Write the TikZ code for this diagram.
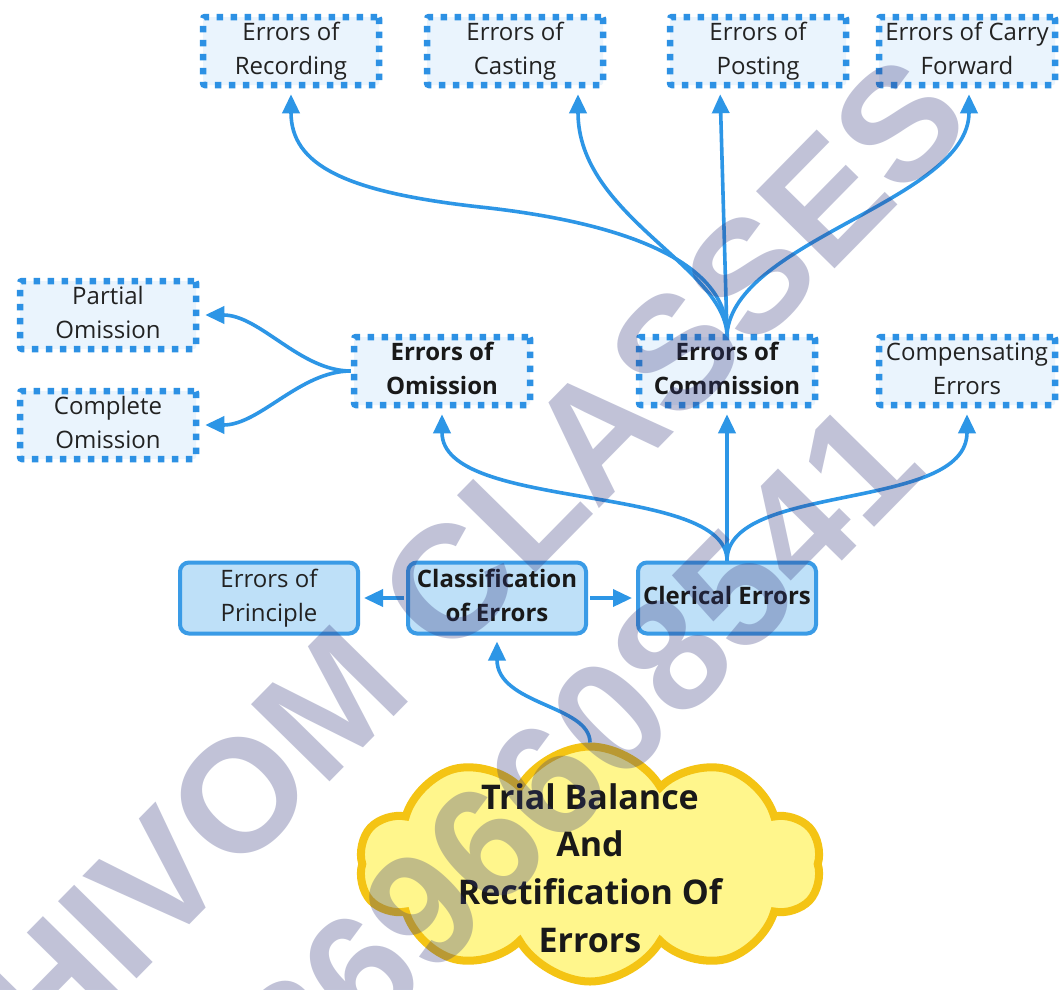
\documentclass[tikz,border=0pt]{standalone}
\usepackage{fontspec}
\setmainfont{Open Sans}
\newfontfamily\wmfont{Liberation Sans}
\usetikzlibrary{shapes.symbols,arrows.meta}
\definecolor{arr}{RGB}{45,150,230}
\definecolor{dotb}{RGB}{45,145,228}
\definecolor{dotf}{RGB}{234,244,253}
\definecolor{solf}{RGB}{190,224,248}
\definecolor{solb}{RGB}{58,155,230}
\definecolor{cloudf}{RGB}{255,246,140}
\definecolor{cloudb}{RGB}{244,196,20}
\definecolor{wm}{RGB}{50,55,125}
\definecolor{txt}{RGB}{34,34,34}
\begin{document}
\begin{tikzpicture}[x=1pt,y=1pt,
  dotbox/.style={draw=dotb, fill=dotf, line width=6.5pt, dash pattern=on 6.5pt off 7.5pt,
    rounded corners=2pt, minimum width=176pt, minimum height=68pt, inner sep=0pt,
    align=center, font=\fontsize{24}{34}\selectfont, text=txt},
  solbox/.style={draw=solb, fill=solf, line width=4pt, rounded corners=9pt,
    minimum width=178pt, minimum height=71pt, inner sep=0pt,
    align=center, font=\fontsize{24}{34}\selectfont, text=txt},
  bold/.style={font=\fontsize{24}{34}\selectfont\bfseries, text=black!90},
  conn/.style={draw=arr, line width=3.6pt, -{Triangle[width=17pt,length=19pt]}},
  wmark/.style={font=\wmfont\bfseries\fontsize{160}{160}\selectfont, text=wm, text opacity=0.3, inner sep=0pt, rotate=45.5},
]
\fill[white] (0,0) rectangle (1059,-989);
\useasboundingbox (0,0) rectangle (1059,-989);

% top row
\node[dotbox] (rec) at (291,-51) {\strut Errors of\\Recording\strut};
\node[dotbox] (cas) at (515,-51) {\strut Errors of\\Casting\strut};
\node[dotbox] (pos) at (758,-51) {\strut Errors of\\Posting\strut};
\node[dotbox] (cf)  at (967,-51) {\strut Errors of Carry\\Forward\strut};

% middle row
\node[dotbox] (par)  at (108,-315) {\strut Partial\\Omission\strut};
\node[dotbox] (cmpl) at (108,-425) {\strut Complete\\Omission\strut};
\node[dotbox,bold] (omi)  at (442,-371) {\strut Errors of\\Omission\strut};
\node[dotbox,bold] (comm) at (727,-371) {\strut Errors of\\Commission\strut};
\node[dotbox] (comp) at (967,-371) {\strut Compensating\\Errors\strut};

% lower row
\node[solbox] (prin) at (269,-598) {\strut Errors of\\Principle\strut};
\node[solbox,bold] (cls) at (497,-598) {\strut Classification\\of Errors\strut};
\node[solbox,bold] (cler) at (727,-598) {\strut Clerical Errors};

% cloud
\node[cloud, cloud puffs=10, cloud puff arc=120, aspect=2, draw=cloudb, fill=cloudf,
  line width=8pt, minimum width=462pt, minimum height=235pt, inner sep=0pt] (cloud) at (590,-864) {};
\node[align=center, font=\fontsize{34}{47.7}\selectfont\bfseries, text=black!90] (ctext) at (590,-868)
  {Trial Balance\\And\\Rectification Of\\Errors};

% connectors
\draw[conn, shorten >=6pt] (cloud.north) .. controls (590,-705) and (497,-705) .. (cls.south);
\draw[conn, shorten >=4pt, shorten <=2pt] (cls.west) -- (prin.east);
\draw[conn, shorten >=4pt, shorten <=2pt] (cls.east) -- (cler.west);

\draw[conn, shorten >=6pt] (cler.north) .. controls (727,-482) and (442,-512) .. (omi.south);
\draw[conn, shorten >=6pt] (cler.north) -- (comm.south);
\draw[conn, shorten >=6pt] (cler.north) .. controls (727,-482) and (967,-512) .. (comp.south);

\draw[conn, shorten >=6pt] (omi.west) .. controls (300,-371) and (260,-315) .. (par.east);
\draw[conn, shorten >=6pt] (omi.west) .. controls (300,-371) and (260,-425) .. (cmpl.east);

\draw[conn, shorten >=6pt] (comm.north) .. controls (727,-260) and (620,-222) .. (480,-207)
  .. controls (345,-192) and (291,-165) .. (rec.south);
\draw[conn, shorten >=6pt] (comm.north) .. controls (722,-265) and (578,-215) .. ([xshift=63pt]cas.south);
\draw[conn, shorten >=6pt] (comm.north) -- ([xshift=-38pt]pos.south);
\draw[conn, shorten >=6pt] (comm.north) .. controls (735,-240) and (969,-200) .. ([xshift=2pt]cf.south);

% watermark
\node[wmark] (wm1) at (436,-596) {SHIVOM CLASSES};
\node[wmark] (wm2) at (579,-750) {8696608541};
\end{tikzpicture}
\end{document}
